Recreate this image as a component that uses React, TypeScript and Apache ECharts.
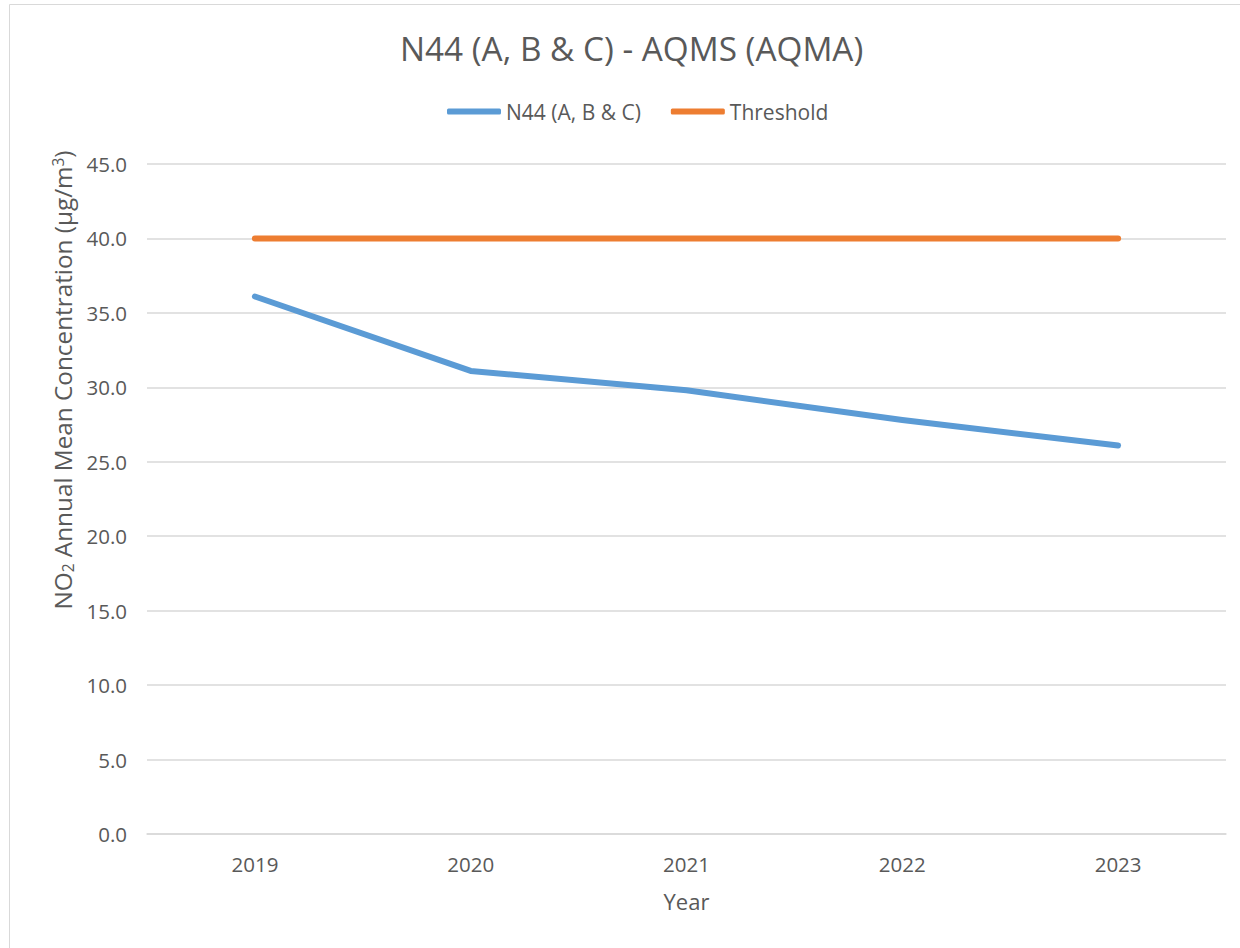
import React, { useEffect, useRef } from "react";
import * as echarts from "echarts";

const years = ["2019", "2020", "2021", "2022", "2023"];
const n44Values = [36.1, 31.1, 29.8, 27.8, 26.1];
const thresholdValues = [40, 40, 40, 40, 40];
const seriesNames = ["N44 (A, B & C)", "Threshold"];
const titleText = "N44 (A, B & C) - AQMS (AQMA)";

const FONT = "'Open Sans', 'Noto Sans', sans-serif";
const TEXT = "#595959";

export default function App() {
  const ref = useRef<HTMLDivElement>(null);
  useEffect(() => {
    if (!ref.current) return;
    const chart = echarts.init(ref.current, undefined, { renderer: "svg" });
    chart.setOption({
      animation: false,
      backgroundColor: "#ffffff",
      textStyle: { fontFamily: FONT, color: TEXT },
      graphic: [
        {
          type: "rect",
          shape: { x: 9.5, y: 4.5, width: 1240, height: 950 },
          style: { fill: "none", stroke: "#d9d9d9", lineWidth: 1 },
          silent: true,
        },
      ],
      title: {
        text: titleText,
        left: 395,
        top: 26,
        textStyle: { fontFamily: FONT, fontSize: 33.3, fontWeight: "normal", color: TEXT },
      },
      legend: {
        top: 96,
        left: 442,
        itemWidth: 54,
        itemHeight: 6,
        itemGap: 30,
        icon: "roundRect",
        textStyle: { fontFamily: FONT, fontSize: 21, color: TEXT },
        data: seriesNames,
      },
      grid: { left: 147, right: 14, top: 164, bottom: 114, containLabel: false },
      xAxis: {
        type: "category",
        data: years,
        boundaryGap: true,
        name: "Year",
        nameLocation: "middle",
        nameGap: 56,
        nameTextStyle: { fontFamily: FONT, fontSize: 22, color: TEXT },
        axisLine: { show: true, lineStyle: { color: "#d9d9d9", width: 1.5 } },
        axisTick: { show: false },
        axisLabel: { margin: 19, fontFamily: FONT, fontSize: 20.5, color: TEXT },
      },
      yAxis: {
        type: "value",
        min: 0,
        max: 45,
        interval: 5,
        name: "{a|NO}{s|2}{a| Annual Mean Concentration (µg/m}{p|3}{a|)}",
        nameLocation: "middle",
        nameGap: 69,
        nameRotate: 90,
        nameTextStyle: {
          fontFamily: FONT,
          fontSize: 24.3,
          color: TEXT,
          padding: [0, 0, 0, 238],
          rich: {
            a: { fontFamily: FONT, fontSize: 24.3, color: TEXT },
            s: { fontFamily: FONT, fontSize: 15.5, color: TEXT, verticalAlign: "bottom", padding: [10, 0, 0, 0] },
            p: { fontFamily: FONT, fontSize: 15.5, color: TEXT, verticalAlign: "top", padding: [0, 0, 10, 0] },
          },
        },
        axisLine: { show: false },
        axisTick: { show: false },
        axisLabel: {
          margin: 20,
          fontFamily: FONT,
          fontSize: 20.5,
          color: TEXT,
          formatter: (v: number) => v.toFixed(1),
        },
        splitLine: { lineStyle: { color: "#d9d9d9", width: 1.5 } },
      },
      series: [
        {
          name: seriesNames[0],
          type: "line",
          data: n44Values,
          symbol: "none",
          color: "#5b9bd5",
          lineStyle: { width: 6, color: "#5b9bd5", cap: "round", join: "round" },
        },
        {
          name: seriesNames[1],
          type: "line",
          data: thresholdValues,
          symbol: "none",
          color: "#ed7d31",
          lineStyle: { width: 6, color: "#ed7d31", cap: "round", join: "round" },
        },
      ],
    });
    return () => chart.dispose();
  }, []);
  return (
    <div
      ref={ref}
      style={{ position: "fixed", left: 0, top: 0, width: 1240, height: 948, background: "#fff" }}
    />
  );
}
